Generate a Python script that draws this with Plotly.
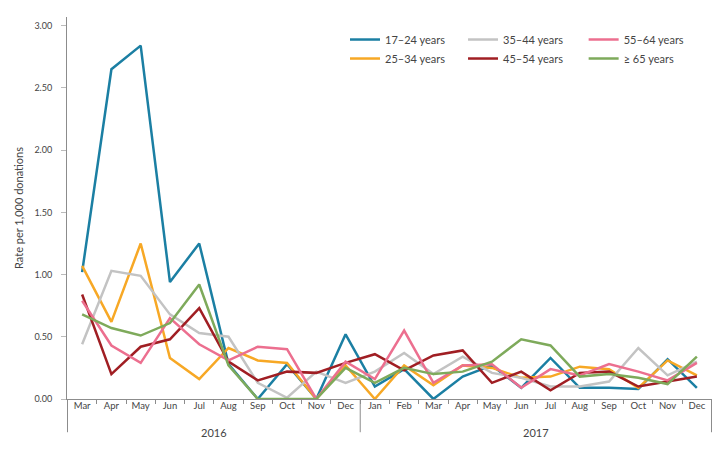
import plotly.graph_objects as go

months = ["Mar", "Apr", "May", "Jun", "Jul", "Aug", "Sep", "Oct", "Nov", "Dec",
          "Jan", "Feb", "Mar", "Apr", "May", "Jun", "Jul", "Aug", "Sep", "Oct", "Nov", "Dec"]
years = ["2016"] * 10 + ["2017"] * 12

age_17_24 = [1.02, 2.65, 2.84, 0.94, 1.25, 0.28, 0.00, 0.28, 0.00, 0.52,
             0.10, 0.24, 0.00, 0.18, 0.27, 0.09, 0.33, 0.09, 0.09, 0.08, 0.32, 0.09]
age_25_34 = [1.07, 0.62, 1.25, 0.33, 0.16, 0.41, 0.31, 0.29, 0.00, 0.27,
             0.00, 0.27, 0.11, 0.27, 0.25, 0.17, 0.18, 0.26, 0.24, 0.09, 0.31, 0.19]
age_35_44 = [0.44, 1.03, 0.99, 0.68, 0.53, 0.50, 0.13, 0.01, 0.22, 0.13,
             0.22, 0.37, 0.20, 0.34, 0.21, 0.17, 0.10, 0.10, 0.14, 0.41, 0.19, 0.30]
age_45_54 = [0.84, 0.20, 0.42, 0.48, 0.73, 0.30, 0.15, 0.22, 0.21, 0.29,
             0.36, 0.23, 0.35, 0.39, 0.13, 0.22, 0.07, 0.21, 0.22, 0.10, 0.14, 0.18]
age_55_64 = [0.79, 0.43, 0.29, 0.65, 0.44, 0.31, 0.42, 0.40, 0.00, 0.30,
             0.16, 0.55, 0.13, 0.27, 0.28, 0.09, 0.24, 0.19, 0.28, 0.22, 0.15, 0.29]
age_65_plus = [0.68, 0.57, 0.51, 0.61, 0.92, 0.27, 0.00, 0.00, 0.00, 0.25,
               0.13, 0.25, 0.20, 0.22, 0.30, 0.48, 0.43, 0.18, 0.20, 0.17, 0.12, 0.34]

series_names = ["17\u201324 years", "25\u201334 years", "35\u201344 years",
                "45\u201354 years", "55\u201364 years", "\u2265 65 years"]
series_values = [age_17_24, age_25_34, age_35_44, age_45_54, age_55_64, age_65_plus]
colors = ["#1b7fa3", "#f7a825", "#c3c3c3", "#a01e23", "#ec6f8f", "#7eaa5b"]
# legend column for each series (two per column, as in the original key)
legend_ids = ["legend", "legend", "legend2", "legend2", "legend3", "legend3"]

# unique category keys so repeated month names stay distinct
cats = [f"{m} {y}" for m, y in zip(months, years)]

fig = go.Figure()
for name, vals, col, lg in zip(series_names, series_values, colors, legend_ids):
    fig.add_trace(go.Scatter(
        x=cats, y=vals, mode="lines", name=name,
        line=dict(color=col, width=2.5), legend=lg,
    ))

axis_col = "#8c8c8c"
text_col = "#444444"
font_family = "Lato, Open Sans, sans-serif"
div_bottom = -0.087  # paper units below the x axis

# year group dividers and labels, derived from the years list
boundaries = [-0.5]
groups = []
start = 0
for i in range(1, len(years) + 1):
    if i == len(years) or years[i] != years[start]:
        groups.append((years[start], start, i - 1))
        boundaries.append(i - 0.5)
        start = i
for b in boundaries:
    fig.add_shape(type="line", xref="x", yref="paper", x0=b, x1=b, y0=0, y1=div_bottom,
                  line=dict(color=axis_col, width=1))
for yr, a, b in groups:
    fig.add_annotation(x=(a + b) / 2, y=div_bottom, xref="x", yref="paper",
                       text=yr, showarrow=False, yanchor="middle",
                       font=dict(size=11, color=text_col, family=font_family))

legend_style = dict(orientation="v", yanchor="top", xanchor="left", y=0.979,
                    tracegroupgap=0, bgcolor="rgba(0,0,0,0)",
                    font=dict(size=11, color=text_col, family=font_family))

fig.update_layout(
    width=716, height=441,
    margin=dict(l=59, r=12, t=9, b=50),
    paper_bgcolor="white", plot_bgcolor="white",
    font=dict(family=font_family, color=text_col, size=10),
    showlegend=True,
    legend=dict(x=0.431, **legend_style),
    legend2=dict(x=0.614, **legend_style),
    legend3=dict(x=0.801, **legend_style),
    xaxis=dict(
        type="category", tickvals=cats, ticktext=months,
        showline=True, linecolor=axis_col, linewidth=1,
        ticks="outside", ticklen=4, tickcolor=axis_col, tickson="boundaries",
        ticklabelstandoff=-2,
        tickfont=dict(size=9.5, color=text_col), showgrid=False, zeroline=False,
    ),
    yaxis=dict(
        range=[0, 3.07], dtick=0.5, tickformat=".2f", showline=True,
        linecolor=axis_col, linewidth=1, ticks="outside", ticklen=5,
        tickcolor="#bbbbbb", showgrid=False, zeroline=False,
        ticklabelstandoff=7,
        tickfont=dict(size=9, color=text_col),
        title=dict(text="Rate per 1,000 donations", font=dict(size=11, color=text_col), standoff=8),
    ),
)

fig.write_html("out.html")
